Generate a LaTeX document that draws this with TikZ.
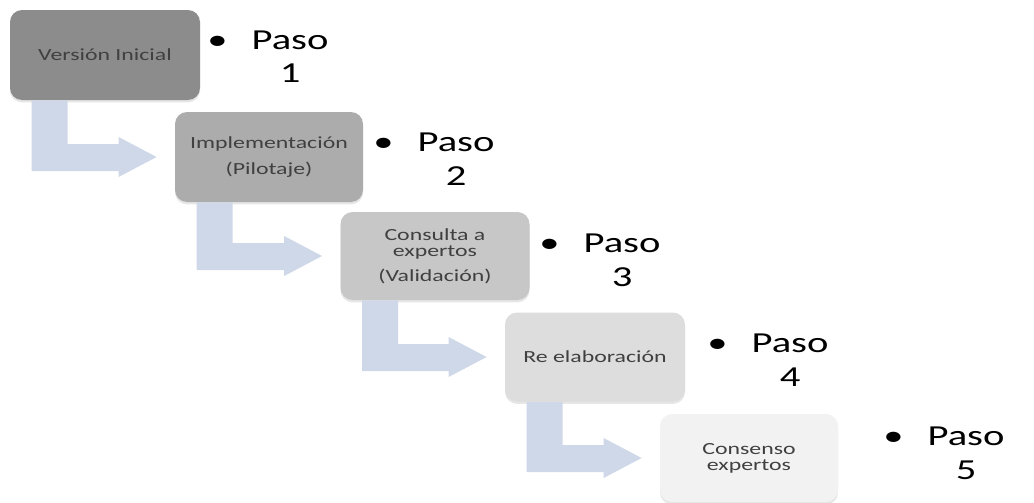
\documentclass[tikz,border=0pt]{standalone}
\usepackage{fontspec}
\setmainfont{Carlito}[FakeStretch=1.4]
\usepackage{tikz}
\usetikzlibrary{calc,shadows}

\definecolor{gris1}{RGB}{140,140,140}
\definecolor{gris2}{RGB}{172,172,172}
\definecolor{gris3}{RGB}{199,199,199}
\definecolor{gris4}{RGB}{221,221,221}
\definecolor{gris5}{RGB}{242,242,242}
\definecolor{flechaazul}{RGB}{206,216,232}
\definecolor{textogris}{RGB}{64,64,64}

\begin{document}
\begin{tikzpicture}[x=0.5pt,y=-0.5pt]
\tikzstyle{caja}=[rectangle,rounded corners=6pt,align=center,text=textogris,
  font=\fontsize{8.5}{8}\selectfont,drop shadow={shadow xshift=0pt,shadow yshift=-1.2pt,opacity=0.2}]
\tikzstyle{paso}=[anchor=base west,inner sep=0pt,font=\fontsize{14.5}{17}\selectfont]
\tikzstyle{flecha}=[fill=flechaazul]
\useasboundingbox (0,0) rectangle (1034,503);
% cajas
\node[caja,fill=gris1,minimum width=95pt,minimum height=45pt] (v1) at (105,55) {Versión Inicial};
\node[caja,fill=gris2,minimum width=94pt,minimum height=45pt] (v2) at (269,157) {Implementación\\[5pt](Pilotaje)};
\node[caja,fill=gris3,minimum width=94.5pt,minimum height=44pt] (v3) at (435,256) {Consulta a\\expertos\\[4.5pt](Validación)};
\node[caja,fill=gris4,minimum width=90pt,minimum height=44.5pt] (v4) at (595,357) {Re elaboración};
\node[caja,fill=gris5,minimum width=89pt,minimum height=44pt] (v5) at (749,458) {Consenso\\expertos};
% flechas
\foreach \a/\b in {v1/v2,v2/v3,v3/v4,v4/v5}
  \fill[flecha] let \p1=(\a.south west), \p2=(\b.west) in
    (\x1+11pt,\y1) -- (\x1+11pt,\y2-7pt) -- (\x2-28pt,\y2-7pt) -- (\x2-28pt,\y2-10pt)
    -- (\x2-9pt,\y2) -- (\x2-28pt,\y2+10pt) -- (\x2-28pt,\y2+6.5pt)
    -- (\x1+29pt,\y2+6.5pt) -- (\x1+29pt,\y1) -- cycle;
% pasos
\node[paso] (p1) at (207,49) {\textbullet\hspace{12pt}\begin{tabular}[t]{@{}c@{}}Paso\\1\end{tabular}};
\node[paso] (p2) at (373,151) {\textbullet\hspace{12pt}\begin{tabular}[t]{@{}c@{}}Paso\\2\end{tabular}};
\node[paso] (p3) at (539,252) {\textbullet\hspace{12pt}\begin{tabular}[t]{@{}c@{}}Paso\\3\end{tabular}};
\node[paso] (p4) at (707,352) {\textbullet\hspace{12pt}\begin{tabular}[t]{@{}c@{}}Paso\\4\end{tabular}};
\node[paso] (p5) at (883,445) {\textbullet\hspace{12pt}\begin{tabular}[t]{@{}c@{}}Paso\\5\end{tabular}};
\end{tikzpicture}
\end{document}
